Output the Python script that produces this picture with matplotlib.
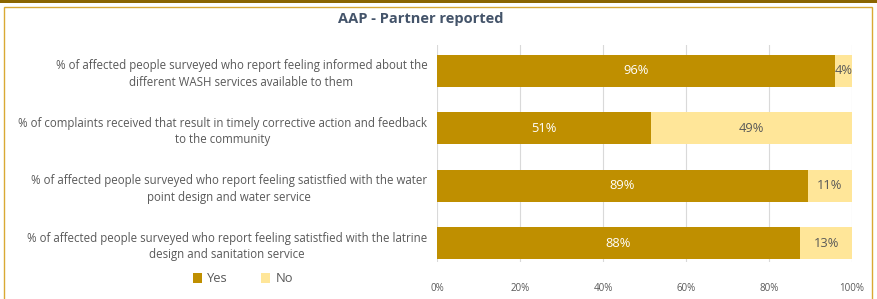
import matplotlib.pyplot as plt
from matplotlib.patches import Rectangle
from matplotlib.ticker import PercentFormatter

categories = [
    "% of affected people surveyed who report feeling informed about the\ndifferent WASH services available to them",
    "% of complaints received that result in timely corrective action and feedback\nto the community",
    "% of affected people surveyed who report feeling satistfied with the water\npoint design and water service",
    "% of affected people surveyed who report feeling satistfied with the latrine\ndesign and sanitation service",
]
yes = [95.8, 51.5, 89.3, 87.5]
no = [4.2, 48.5, 10.7, 12.5]
yes_labels = ["96%", "51%", "89%", "88%"]
no_labels = ["4%", "49%", "11%", "13%"]

YES_COLOR = "#BF8F00"
NO_COLOR = "#FFE699"
TEXT = "#595959"

plt.rcParams["font.family"] = ["Open Sans", "DejaVu Sans"]

fig = plt.figure(figsize=(8.78, 2.99), dpi=100)
W, H = 878, 299

# frame
fig.patches.append(Rectangle((0, 1 - 3 / H), 1, 3 / H, transform=fig.transFigure,
                             facecolor="#8B6500", edgecolor="none"))
fig.patches.append(Rectangle((3.5 / W, -0.01), 868.5 / W, 1 - 7 / H + 0.01,
                             transform=fig.transFigure, facecolor="none",
                             edgecolor="#D9A933", linewidth=1.0))

ax = fig.add_axes([437 / W, 1 - 262 / H, 415 / W, 217 / H])
pos = list(range(len(categories)))
ax.barh(pos, yes, height=0.56, color=YES_COLOR, label="Yes", zorder=3)
ax.barh(pos, no, left=yes, height=0.56, color=NO_COLOR, label="No", zorder=3)

for i in pos:
    ax.text(yes[i] / 2, i, yes_labels[i], ha="center", va="center",
            color="white", fontsize=9.3, zorder=4)
    ax.text(yes[i] + no[i] / 2, i, no_labels[i], ha="center", va="center",
            color=TEXT, fontsize=9.3, zorder=4)

ax.set_xlim(0, 100)
ax.set_ylim(3.33, -0.45)
ax.set_xticks([0, 20, 40, 60, 80, 100])
ax.xaxis.set_major_formatter(PercentFormatter(decimals=0))
ax.set_yticks(pos)
ax.set_yticklabels(categories, multialignment="center", fontsize=8.3,
                   color=TEXT, linespacing=1.35)
ax.tick_params(axis="y", length=0, pad=7)
ax.tick_params(axis="x", length=0, pad=15, labelsize=7, labelcolor=TEXT)
ax.grid(axis="x", color="#D9D9D9", linewidth=0.8, zorder=0)
for s in ax.spines.values():
    s.set_visible(False)

fig.text(421 / W, 1 - 19 / H, "AAP - Partner reported", ha="center", va="center",
         fontsize=10.5, fontweight="bold", color="#44546A")

fig.legend(loc="center", bbox_to_anchor=(243 / W, 1 - 279 / H), ncol=2, frameon=False,
           fontsize=9.3, labelcolor=TEXT, handlelength=0.7, handleheight=0.7,
           columnspacing=2.6, handletextpad=0.4)

fig.savefig("out.png", dpi=100)
